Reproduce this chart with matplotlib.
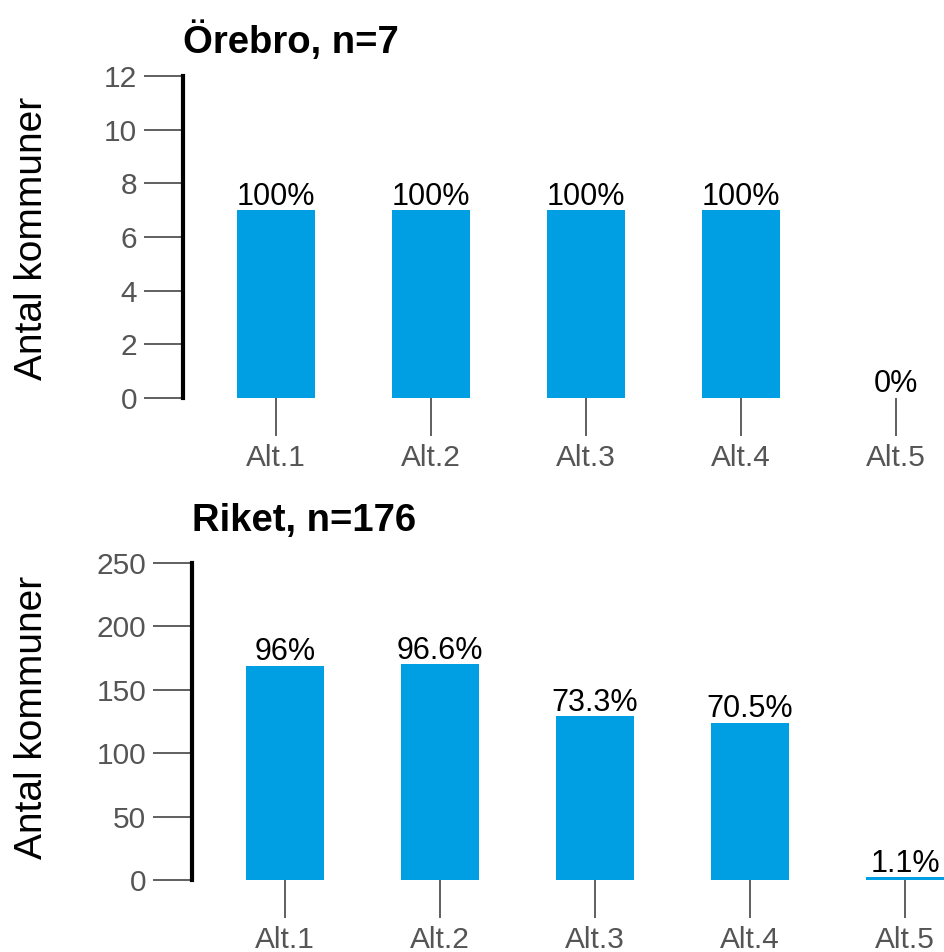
import matplotlib
matplotlib.use('Agg')
import matplotlib.pyplot as plt
import numpy as np

plt.rcParams['font.family'] = ['Liberation Sans', 'DejaVu Sans']

# data
kategorier = ['Alt.1', 'Alt.2', 'Alt.3', 'Alt.4', 'Alt.5']
orebro_antal = [7, 7, 7, 7, 0]
orebro_pct = ['100%', '100%', '100%', '100%', '0%']
riket_antal = [169, 170, 129, 124, 2]
riket_pct = ['96%', '96.6%', '73.3%', '70.5%', '1.1%']
orebro_yticks = [0, 2, 4, 6, 8, 10, 12]
riket_yticks = [0, 50, 100, 150, 200, 250]

farg = '#009fe3'
W, H = 944, 952
fig = plt.figure(figsize=(W/100, H/100), dpi=100)

def panel(left_px, top_px, bot_px, values, labels, yticks, title, title_base_px, ylab_px):
    ax = fig.add_axes([left_px/W, 1-bot_px/H, (W-left_px)/W, (bot_px-top_px)/H])
    x = np.arange(len(values))
    ax.bar(x, values, width=0.5, color=farg)
    pxu = 155.0
    ax.set_xlim(-93/pxu, -93/pxu + (W-left_px)/pxu)
    ax.set_ylim(yticks[0], yticks[-1])
    for s in ['top', 'right', 'bottom']:
        ax.spines[s].set_visible(False)
    ax.spines['left'].set_linewidth(3)
    ax.spines['left'].set_color('black')
    ax.set_yticks(yticks)
    ax.set_xticks(x)
    ax.set_xticklabels(kategorier)
    ax.tick_params(axis='y', length=28, width=1.2, color='#444444', labelsize=21.5,
                   labelcolor='#555555', pad=5)
    ax.tick_params(axis='x', length=27, width=1.2, color='#444444', labelsize=21.5,
                   labelcolor='#555555', pad=6)
    for xi, v, l in zip(x, values, labels):
        ax.annotate(l, (xi, v), xytext=(0, 4), textcoords='offset points',
                    ha='center', va='baseline', fontsize=22, color='black')
    for t in ax.get_xticklabels() + ax.get_yticklabels():
        t.set_clip_on(False)
    fig.text(left_px/W, 1-title_base_px/H, title, fontsize=27.5, fontweight='bold',
             ha='left', va='baseline')
    fig.text(32/W, 1-ylab_px/H, 'Antal kommuner', rotation=90, fontsize=28,
             ha='center', va='center')
    return ax

panel(183, 76, 398, orebro_antal, orebro_pct, orebro_yticks, 'Örebro, n=7', 53, 238)
panel(192, 563, 880, riket_antal, riket_pct, riket_yticks, 'Riket, n=176', 531, 717)

fig.savefig('out.png', dpi=100)
